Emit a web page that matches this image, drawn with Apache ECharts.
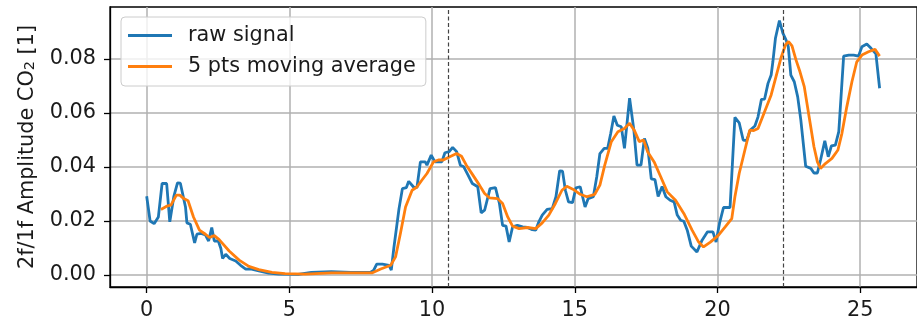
<!DOCTYPE html>
<html>
<head>
<meta charset="utf-8">
<script src="https://cdn.jsdelivr.net/npm/echarts@6/dist/echarts.min.js"></script>
<style>
  html, body { margin: 0; padding: 0; background: #ffffff; }
  #chart { width: 917px; height: 324px; }
</style>
</head>
<body>
<div id="chart"></div>
<script>
// Raw 2f/1f amplitude samples (time, value)
const rawTime = [
  0.00, 0.12, 0.26, 0.41, 0.54, 0.70, 0.81, 0.95, 1.08, 1.18,
  1.36, 1.41, 1.53, 1.68, 1.76, 1.91, 2.06, 2.17, 2.28, 2.37,
  2.51, 2.60, 2.66, 2.77, 2.91, 3.12, 3.29, 3.47, 3.64, 3.93,
  4.27, 4.62, 5.31, 5.77, 6.47, 7.16, 7.85, 7.95, 8.06, 8.26,
  8.49, 8.57, 8.66, 8.84, 8.96, 9.10, 9.18, 9.35, 9.47, 9.59,
  9.76, 9.82, 9.97, 10.10, 10.34, 10.45, 10.60, 10.72, 10.86, 10.99,
  11.11, 11.26, 11.41, 11.60, 11.72, 11.84, 12.03, 12.22, 12.36, 12.47,
  12.59, 12.70, 12.82, 12.99, 13.17, 13.34, 13.51, 13.63, 13.74, 13.86,
  14.03, 14.21, 14.34, 14.47, 14.57, 14.67, 14.78, 14.92, 15.04, 15.19,
  15.36, 15.47, 15.65, 15.77, 15.88, 16.03, 16.15, 16.26, 16.37, 16.49,
  16.63, 16.74, 16.92, 17.07, 17.18, 17.32, 17.44, 17.56, 17.68, 17.81,
  17.92, 18.06, 18.19, 18.34, 18.48, 18.59, 18.71, 18.82, 18.94, 19.08,
  19.28, 19.46, 19.65, 19.84, 19.95, 20.07, 20.21, 20.44, 20.61, 20.76,
  20.90, 21.02, 21.15, 21.31, 21.42, 21.54, 21.65, 21.77, 21.88, 21.94,
  22.03, 22.17, 22.29, 22.40, 22.48, 22.57, 22.69, 22.81, 22.92, 23.09,
  23.27, 23.38, 23.50, 23.61, 23.76, 23.88, 23.99, 24.13, 24.25, 24.42,
  24.60, 24.77, 24.94, 25.06, 25.23, 25.38, 25.55, 25.68
];
const rawValue = [
  0.0292, 0.0200, 0.0190, 0.0215, 0.0339, 0.0339, 0.0197, 0.0290, 0.0341, 0.0340,
  0.0252, 0.0193, 0.0188, 0.0119, 0.0151, 0.0154, 0.0148, 0.0126, 0.0176, 0.0126,
  0.0126, 0.0098, 0.0061, 0.0077, 0.0061, 0.0052, 0.0036, 0.0022, 0.0023, 0.0015,
  0.0007, 0.0003, 0.0002, 0.0010, 0.0012, 0.0010, 0.0010, 0.0017, 0.0040, 0.0040,
  0.0036, 0.0018, 0.0100, 0.0245, 0.0320, 0.0324, 0.0347, 0.0326, 0.0324, 0.0419,
  0.0419, 0.0407, 0.0444, 0.0419, 0.0419, 0.0453, 0.0457, 0.0473, 0.0457, 0.0407,
  0.0401, 0.0370, 0.0339, 0.0327, 0.0230, 0.0240, 0.0320, 0.0324, 0.0265, 0.0184,
  0.0181, 0.0122, 0.0178, 0.0184, 0.0178, 0.0176, 0.0168, 0.0166, 0.0197, 0.0222,
  0.0243, 0.0246, 0.0290, 0.0386, 0.0385, 0.0314, 0.0271, 0.0268, 0.0323, 0.0327,
  0.0252, 0.0283, 0.0290, 0.0364, 0.0450, 0.0469, 0.0469, 0.0525, 0.0589, 0.0555,
  0.0549, 0.0469, 0.0655, 0.0537, 0.0407, 0.0407, 0.0506, 0.0470, 0.0356, 0.0353,
  0.0291, 0.0328, 0.0290, 0.0277, 0.0271, 0.0222, 0.0203, 0.0199, 0.0166, 0.0107,
  0.0085, 0.0129, 0.0160, 0.0160, 0.0122, 0.0191, 0.0250, 0.0250, 0.0584, 0.0564,
  0.0500, 0.0498, 0.0537, 0.0552, 0.0586, 0.0651, 0.0652, 0.0710, 0.0741, 0.0790,
  0.0877, 0.0943, 0.0896, 0.0871, 0.0846, 0.0741, 0.0716, 0.0660, 0.0574, 0.0403,
  0.0395, 0.0378, 0.0378, 0.0426, 0.0497, 0.0438, 0.0478, 0.0481, 0.0531, 0.0811,
  0.0815, 0.0815, 0.0811, 0.0846, 0.0856, 0.0840, 0.0819, 0.0692
];

// 5-point moving average of the signal (time, value)
const avgTime = [
  0.50, 0.70, 0.85, 1.04, 1.16, 1.30, 1.45, 1.64, 1.85, 2.06,
  2.20, 2.37, 2.54, 2.89, 3.24, 3.58, 3.93, 4.39, 4.85, 5.55,
  6.47, 7.16, 7.91, 8.20, 8.55, 8.72, 8.89, 9.07, 9.30, 9.47,
  9.64, 9.82, 10.05, 10.22, 10.39, 10.62, 10.86, 11.03, 11.20, 11.43,
  11.66, 11.84, 12.01, 12.30, 12.47, 12.65, 12.82, 13.05, 13.34, 13.63,
  13.86, 14.09, 14.32, 14.55, 14.72, 14.95, 15.19, 15.42, 15.70, 15.88,
  16.05, 16.28, 16.51, 16.74, 16.92, 17.09, 17.26, 17.41, 17.55, 17.78,
  18.01, 18.24, 18.53, 18.82, 19.11, 19.34, 19.51, 19.75, 20.03, 20.27,
  20.50, 20.61, 20.76, 20.96, 21.13, 21.27, 21.42, 21.65, 21.88, 22.05,
  22.22, 22.38, 22.49, 22.61, 22.75, 22.89, 23.04, 23.21, 23.38, 23.50,
  23.61, 23.78, 24.01, 24.22, 24.36, 24.53, 24.71, 24.88, 25.06, 25.29,
  25.52, 25.68
];
const avgValue = [
  0.0243, 0.0255, 0.0259, 0.0296, 0.0296, 0.0283, 0.0275, 0.0215, 0.0166, 0.0151,
  0.0139, 0.0146, 0.0131, 0.0089, 0.0055, 0.0032, 0.0020, 0.0010, 0.0005, 0.0003,
  0.0008, 0.0008, 0.0008, 0.0022, 0.0036, 0.0067, 0.0154, 0.0252, 0.0314, 0.0326,
  0.0351, 0.0376, 0.0419, 0.0426, 0.0426, 0.0438, 0.0450, 0.0440, 0.0407, 0.0370,
  0.0333, 0.0302, 0.0286, 0.0283, 0.0265, 0.0215, 0.0181, 0.0172, 0.0176, 0.0172,
  0.0193, 0.0222, 0.0265, 0.0314, 0.0329, 0.0317, 0.0299, 0.0290, 0.0299, 0.0333,
  0.0407, 0.0494, 0.0531, 0.0543, 0.0562, 0.0535, 0.0494, 0.0500, 0.0457, 0.0419,
  0.0364, 0.0308, 0.0277, 0.0228, 0.0166, 0.0122, 0.0104, 0.0122, 0.0147, 0.0178,
  0.0209, 0.0290, 0.0376, 0.0463, 0.0537, 0.0535, 0.0543, 0.0605, 0.0667, 0.0735,
  0.0803, 0.0852, 0.0865, 0.0849, 0.0797, 0.0753, 0.0698, 0.0586, 0.0475, 0.0419,
  0.0395, 0.0413, 0.0432, 0.0463, 0.0525, 0.0623, 0.0716, 0.0790, 0.0815, 0.0827,
  0.0836, 0.0811
];

// Event markers (dashed verticals)
const markerTimes = [10.58, 22.31];

// Axis ticks
const xTicks = [0, 5, 10, 15, 20, 25];
const yTicks = [0.00, 0.02, 0.04, 0.06, 0.08];

const seriesNames = ['raw signal', '5 pts moving average'];

const FONT = 'DejaVu Sans';
const FS = 20.8;
const TEXT = '#1a1a1a';

const zip = (xs, ys) => xs.map((x, i) => [x, ys[i]]);

const chart = echarts.init(document.getElementById('chart'), null, { renderer: 'canvas' });

chart.setOption({
  animation: false,
  backgroundColor: '#ffffff',
  grid: {
    left: 110, top: 7, right: -9, bottom: 37,
    show: true, borderColor: '#000000', borderWidth: 1.3,
    backgroundColor: 'transparent'
  },
  legend: {
    orient: 'vertical',
    left: 121, top: 17,
    padding: [8, 10, 9, 7],
    itemGap: 10,
    itemWidth: 44, itemHeight: 3,
    icon: 'rect',
    backgroundColor: 'rgba(255,255,255,0.8)',
    borderColor: '#cccccc', borderWidth: 1, borderRadius: 4,
    textStyle: { fontFamily: FONT, fontSize: FS, color: TEXT, padding: [0, 0, 0, 11] },
    data: seriesNames
  },
  xAxis: {
    type: 'value',
    min: -1.285, max: 26.99,
    splitNumber: 5,
    axisLine: { show: true, onZero: false, lineStyle: { color: '#000', width: 1.3 } },
    axisTick: { show: true, length: 6, lineStyle: { color: '#000', width: 1.3 }, customValues: xTicks },
    axisLabel: {
      fontFamily: FONT, fontSize: FS, color: TEXT, margin: 13,
      customValues: xTicks,
      formatter: v => String(v)
    },
    splitLine: { show: true, lineStyle: { color: '#b0b0b0', width: 1.5 } }
  },
  yAxis: {
    type: 'value',
    min: -0.00445, max: 0.0993,
    splitNumber: 5,
    name: '2f/1f Amplitude CO{sub|2} [1]',
    nameLocation: 'middle',
    nameGap: 72,
    nameRotate: 90,
    nameTextStyle: {
      fontFamily: FONT, fontSize: FS, color: TEXT,
      rich: { sub: { fontFamily: FONT, fontSize: 14.5, color: TEXT, verticalAlign: 'bottom', lineHeight: 8 } }
    },
    axisLine: { show: true, onZero: false, lineStyle: { color: '#000', width: 1.3 } },
    axisTick: { show: true, length: 6, lineStyle: { color: '#000', width: 1.3 }, customValues: yTicks },
    axisLabel: {
      fontFamily: FONT, fontSize: FS, color: TEXT, margin: 14,
      customValues: yTicks,
      formatter: v => v.toFixed(2)
    },
    splitLine: { show: true, lineStyle: { color: '#b0b0b0', width: 1.5 } }
  },
  series: [
    {
      name: seriesNames[0],
      type: 'line',
      data: zip(rawTime, rawValue),
      showSymbol: false,
      symbol: 'none',
      color: '#1f77b4',
      lineStyle: { color: '#1f77b4', width: 2.8 },
      z: 3,
      markLine: {
        silent: true,
        symbol: ['none', 'none'],
        label: { show: false },
        lineStyle: { color: '#444444', type: [4, 2.5], width: 1.2 },
        data: markerTimes.map(t => ({ xAxis: t }))
      }
    },
    {
      name: seriesNames[1],
      type: 'line',
      data: zip(avgTime, avgValue),
      showSymbol: false,
      symbol: 'none',
      color: '#ff7f0e',
      lineStyle: { color: '#ff7f0e', width: 2.8 },
      z: 4
    }
  ]
});
</script>
</body>
</html>
